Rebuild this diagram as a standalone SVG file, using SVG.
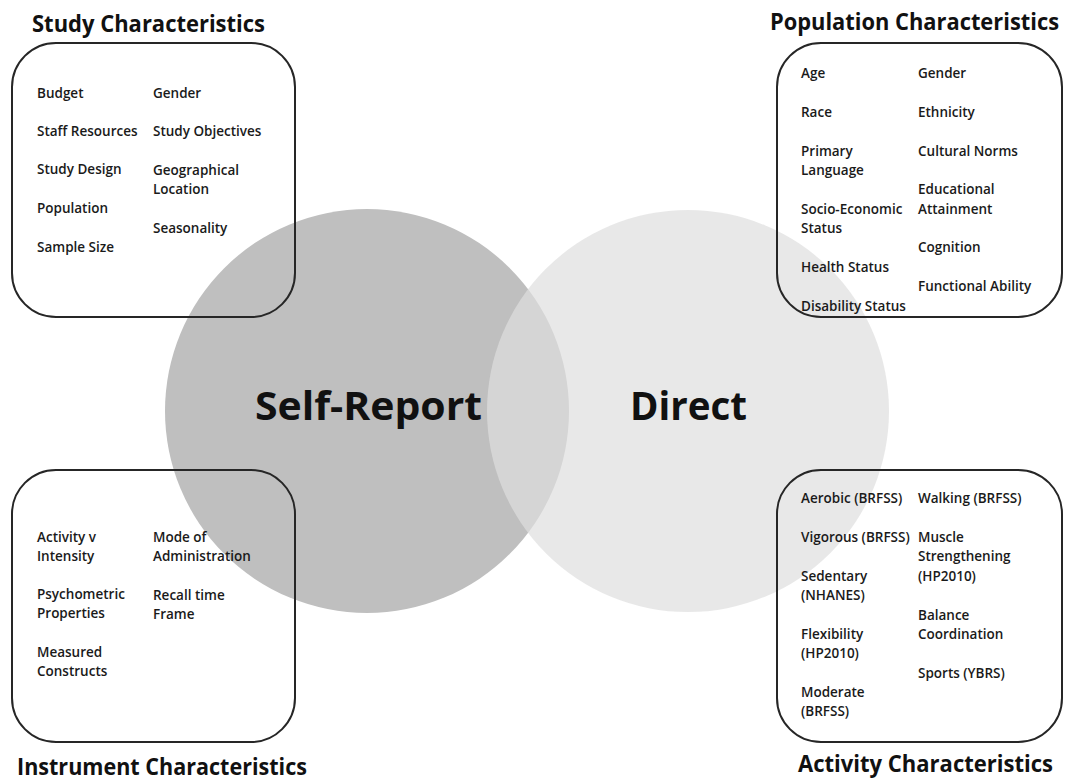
<svg xmlns="http://www.w3.org/2000/svg" width="1068" height="782" viewBox="0 0 1068 782">
<style>
.title{font-family:"Open Sans","Liberation Sans",sans-serif;font-weight:700;font-size:22.5px;fill:#111}
.end{text-anchor:end}
.big{font-family:"Open Sans","Liberation Sans",sans-serif;font-weight:700;font-size:40px;fill:#111}
.item{font-family:"Open Sans","Liberation Sans",sans-serif;font-weight:600;font-size:13.5px;fill:#1a1a1a}
.box{fill:none;stroke:#262626;stroke-width:2}
</style>
<rect width="1068" height="782" fill="#fff"/>
<g id="circles">
<circle id="self-report" cx="367" cy="411" r="202" fill="#bfbfbf"/>
<circle id="direct" cx="688" cy="411" r="201" fill="#dedede" fill-opacity="0.7"/>
</g>
<g id="labels">
<text class="big" x="255" y="420" textLength="227" lengthAdjust="spacingAndGlyphs">Self-Report</text>
<text class="big" x="630" y="420" textLength="117" lengthAdjust="spacingAndGlyphs">Direct</text>
</g>
<g id="connectors"></g>
<g id="study">
<rect class="box" x="12" y="43" width="283" height="274" rx="44"/>
<text class="title" x="32" y="32" textLength="233" lengthAdjust="spacingAndGlyphs">Study Characteristics</text>
<text class="item" x="37" y="98">Budget</text>
<text class="item" x="37" y="136">Staff Resources</text>
<text class="item" x="37" y="174">Study Design</text>
<text class="item" x="37" y="213">Population</text>
<text class="item" x="37" y="252">Sample Size</text>
<text class="item" x="153" y="98">Gender</text>
<text class="item" x="153" y="136">Study Objectives</text>
<text class="item" x="153" y="175">Geographical</text>
<text class="item" x="153" y="194">Location</text>
<text class="item" x="153" y="233">Seasonality</text>
</g>
<g id="population">
<rect class="box" x="777" y="43" width="285" height="274" rx="44"/>
<text class="title" x="770" y="30" textLength="289" lengthAdjust="spacingAndGlyphs">Population Characteristics</text>
<text class="item" x="801" y="78">Age</text>
<text class="item" x="801" y="117">Race</text>
<text class="item" x="801" y="156">Primary</text>
<text class="item" x="801" y="175">Language</text>
<text class="item" x="801" y="214">Socio-Economic</text>
<text class="item" x="801" y="233">Status</text>
<text class="item" x="801" y="272">Health Status</text>
<text class="item" x="801" y="311">Disability Status</text>
<text class="item" x="918" y="78">Gender</text>
<text class="item" x="918" y="117">Ethnicity</text>
<text class="item" x="918" y="156">Cultural Norms</text>
<text class="item" x="918" y="194">Educational</text>
<text class="item" x="918" y="214">Attainment</text>
<text class="item" x="918" y="252">Cognition</text>
<text class="item" x="918" y="291">Functional Ability</text>
</g>
<g id="instrument">
<rect class="box" x="12" y="470" width="283" height="272" rx="44"/>
<text class="title" x="17" y="775" textLength="290" lengthAdjust="spacingAndGlyphs">Instrument Characteristics</text>
<text class="item" x="37" y="542">Activity v</text>
<text class="item" x="37" y="561">Intensity</text>
<text class="item" x="37" y="599">Psychometric</text>
<text class="item" x="37" y="618">Properties</text>
<text class="item" x="37" y="657">Measured</text>
<text class="item" x="37" y="676">Constructs</text>
<text class="item" x="153" y="542">Mode of</text>
<text class="item" x="153" y="561">Administration</text>
<text class="item" x="153" y="600">Recall time</text>
<text class="item" x="153" y="619">Frame</text>
</g>
<g id="activity">
<rect class="box" x="777" y="470" width="285" height="272" rx="44"/>
<text class="title" x="798" y="772" textLength="255" lengthAdjust="spacingAndGlyphs">Activity Characteristics</text>
<text class="item" x="801" y="503">Aerobic (BRFSS)</text>
<text class="item" x="801" y="542">Vigorous (BRFSS)</text>
<text class="item" x="801" y="581">Sedentary</text>
<text class="item" x="801" y="600">(NHANES)</text>
<text class="item" x="801" y="639">Flexibility</text>
<text class="item" x="801" y="658">(HP2010)</text>
<text class="item" x="801" y="697">Moderate</text>
<text class="item" x="801" y="716">(BRFSS)</text>
<text class="item" x="918" y="503">Walking (BRFSS)</text>
<text class="item" x="918" y="542">Muscle</text>
<text class="item" x="918" y="561">Strengthening</text>
<text class="item" x="918" y="581">(HP2010)</text>
<text class="item" x="918" y="620">Balance</text>
<text class="item" x="918" y="639">Coordination</text>
<text class="item" x="918" y="678">Sports (YBRS)</text>
</g>
</svg>
